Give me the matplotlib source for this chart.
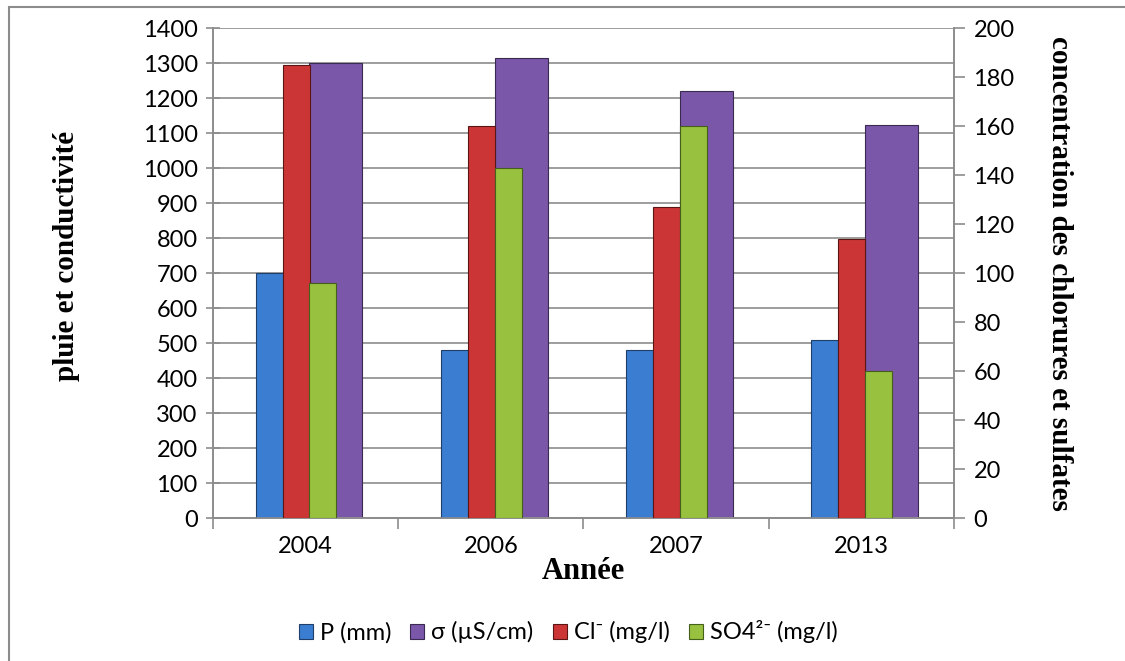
import matplotlib.pyplot as plt
from matplotlib.patches import Rectangle
import numpy as np

plt.rcParams['font.family'] = ['Lato', 'DejaVu Sans']

annees = ['2004', '2006', '2007', '2013']
pluie = [700, 480, 480, 510]
conductivite = [1300, 1315, 1222, 1125]
chlorures = [185, 160, 127, 114]
sulfates = [96, 143, 160, 60]

bleu = '#3B7DD0'
violet = '#7A57A8'
rouge = '#CC3535'
vert = '#97C13F'
gris = '#8C8C8C'

fig = plt.figure(figsize=(11.25, 6.61), dpi=100)
fig.patches.append(Rectangle((0.008, -0.01), 1.0, 0.999, transform=fig.transFigure,
                             fill=False, edgecolor=gris, linewidth=1.5))

ax = fig.add_axes([0.1893, 0.2159, 0.6587, 0.7413])
ax2 = ax.twinx()

x = np.arange(len(annees))
w = 0.146

ax.bar(x + 0.02, conductivite, width=0.286, align='edge', color=violet,
       edgecolor='#3a2a50', linewidth=0.8, label='σ (µS/cm)', zorder=2)
ax.bar(x - 0.27, pluie, width=w, align='edge', color=bleu,
       edgecolor='#1f3f6a', linewidth=0.8, label='P (mm)', zorder=3)
ax2.bar(x - 0.124, chlorures, width=w, align='edge', color=rouge,
        edgecolor='#5a1515', linewidth=0.8, label='Cl⁻ (mg/l)', zorder=3)
ax2.bar(x + 0.02, sulfates, width=w, align='edge', color=vert,
        edgecolor='#45601a', linewidth=0.8, label='SO4²⁻ (mg/l)', zorder=3)

ax.set_xlim(-0.5, len(annees) - 0.5)
ax.set_ylim(0, 1400)
ax2.set_ylim(0, 200)
ax.set_yticks(range(0, 1401, 100))
ax2.set_yticks(range(0, 201, 20))
ax.yaxis.grid(True, color=gris, linewidth=1.2, zorder=0)
ax.set_axisbelow(True)

ax.set_xticks(x)
ax.set_xticklabels(annees, fontsize=17)
ax.set_xticks(np.arange(-0.5, len(annees)), minor=True)
ax.tick_params(axis='x', which='major', length=0, pad=13)
ax.tick_params(axis='x', which='minor', length=8, color=gris, width=1.2)
ax.tick_params(axis='y', labelsize=17, direction='inout', length=10, color=gris, width=1.2, pad=6)
ax2.tick_params(axis='y', labelsize=17, direction='out', length=8, color=gris, width=1.2, pad=6)

for a in (ax, ax2):
    a.spines['top'].set_visible(False)
    for s in ('left', 'right', 'bottom'):
        a.spines[s].set_color(gris)
        a.spines[s].set_linewidth(1.2)

ax.set_xlabel('Année', family='Liberation Serif', fontweight='bold', fontsize=22, labelpad=0)
ax.set_ylabel('pluie et conductivité', family='Liberation Serif', fontweight='bold',
              fontsize=21)
ax.yaxis.set_label_coords(-0.18, 0.535)
ax2.set_ylabel('concentration des chlorures et sulfates', family='Liberation Serif',
               fontweight='bold', fontsize=21, rotation=-90, labelpad=42)

h1, l1 = ax.get_legend_handles_labels()
h2, l2 = ax2.get_legend_handles_labels()
handles = [h1[1], h1[0], h2[0], h2[1]]
labels = [l1[1], l1[0], l2[0], l2[1]]
fig.legend(handles, labels, loc='center', bbox_to_anchor=(0.505, 0.044), ncol=4,
           frameon=False, fontsize=17, handlelength=0.6, handleheight=0.6,
           handletextpad=0.3, columnspacing=0.8)

fig.savefig('out.png', dpi=100)
